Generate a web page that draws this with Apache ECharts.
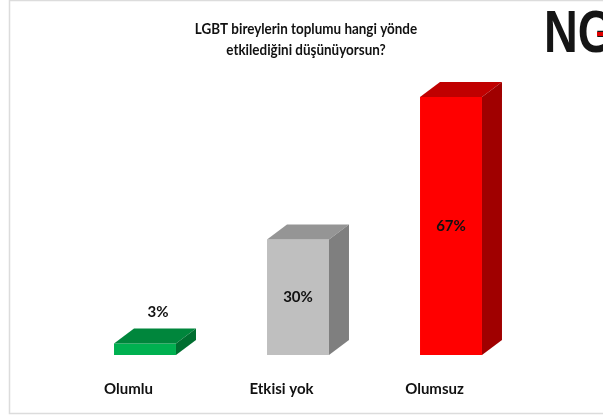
<!DOCTYPE html>
<html>
<head>
<meta charset="utf-8">
<script src="https://cdn.jsdelivr.net/npm/echarts@6/dist/echarts.min.js"></script>
<style>
  html, body { margin: 0; padding: 0; background: #fff; }
  #chart { width: 603px; height: 417px; }
</style>
</head>
<body>
<div id="chart"></div>
<script>
var titleText = 'LGBT bireylerin toplumu hangi yönde\netkilediğini düşünüyorsun?';
var categories = ['Olumlu', 'Etkisi yok', 'Olumsuz'];
var values = [3, 30, 67];
var valueLabels = ['3%', '30%', '67%'];

// front, top, side
var palette = [
    ['#00b050', '#00863c', '#006e30'],
    ['#bfbfbf', '#959595', '#7f7f7f'],
    ['#ff0000', '#c00000', '#a00000']
];

var dx = 20, dy = 15;

function renderBar(params, api) {
    var idx = api.value(0),
        val = api.value(1),
        top = api.coord([idx, val]),
        base = api.coord([idx, 0]),
        w = api.size([1, 0])[0] * 0.405,
        x0 = top[0] - w / 2,
        x1 = top[0] + w / 2,
        c = palette[params.dataIndex],
        label;

    if (val < 10) {
        label = { x: top[0] + 13, y: top[1] - dy - 16 };
    } else {
        label = { x: top[0], y: (top[1] + base[1]) / 2 };
    }

    return {
        type: 'group',
        children: [
            {
                type: 'rect',
                shape: { x: x0, y: top[1], width: w, height: base[1] - top[1] },
                style: { fill: c[0] }
            },
            {
                type: 'polygon',
                shape: { points: [[x0, top[1]], [x0 + dx, top[1] - dy], [x1 + dx, top[1] - dy], [x1, top[1]]] },
                style: { fill: c[1] }
            },
            {
                type: 'polygon',
                shape: { points: [[x1, top[1]], [x1 + dx, top[1] - dy], [x1 + dx, base[1] - dy], [x1, base[1]]] },
                style: { fill: c[2] }
            },
            {
                type: 'text',
                x: label.x,
                y: label.y,
                style: {
                    text: valueLabels[params.dataIndex],
                    font: 'bold 15px Lato',
                    fill: '#111',
                    align: 'center',
                    verticalAlign: 'middle'
                }
            }
        ]
    };
}

var chart = echarts.init(document.getElementById('chart'));
chart.setOption({
    backgroundColor: '#fff',
    animation: false,
    graphic: [
        {
            type: 'rect',
            shape: { x: 9.5, y: 0.5, width: 600, height: 413 },
            style: { fill: 'none', stroke: '#dcdcdc', lineWidth: 1.5 },
            silent: true
        },
        {
            type: 'text',
            x: 306,
            y: 18,
            scaleX: 0.84,
            style: {
                text: titleText,
                font: 'bold 16px Lato',
                fill: '#111',
                align: 'center',
                verticalAlign: 'top',
                lineHeight: 21
            }
        },
        {
            type: 'text',
            x: 544,
            y: 35,
            scaleX: 0.78,
            style: {
                text: 'NG',
                font: 'bold 60px "Liberation Sans"',
                fill: '#151515',
                verticalAlign: 'middle'
            }
        },
        {
            type: 'rect',
            shape: { x: 597, y: 32, width: 10, height: 4 },
            style: { fill: '#e00000' }
        }
    ],
    grid: {
        left: 68.5,
        right: 75.5,
        top: 47,
        bottom: 62
    },
    xAxis: {
        type: 'category',
        data: categories,
        axisLine: { show: false },
        axisTick: { show: false },
        axisLabel: {
            margin: 27,
            padding: [0, 33, 0, 0],
            fontFamily: 'Lato',
            fontSize: 15,
            fontWeight: 'bold',
            color: '#111'
        }
    },
    yAxis: {
        type: 'value',
        min: 0,
        max: 80,
        show: false
    },
    series: [
        {
            type: 'custom',
            renderItem: renderBar,
            data: values.map(function (v, i) { return [i, v]; })
        }
    ]
});
</script>
</body>
</html>
